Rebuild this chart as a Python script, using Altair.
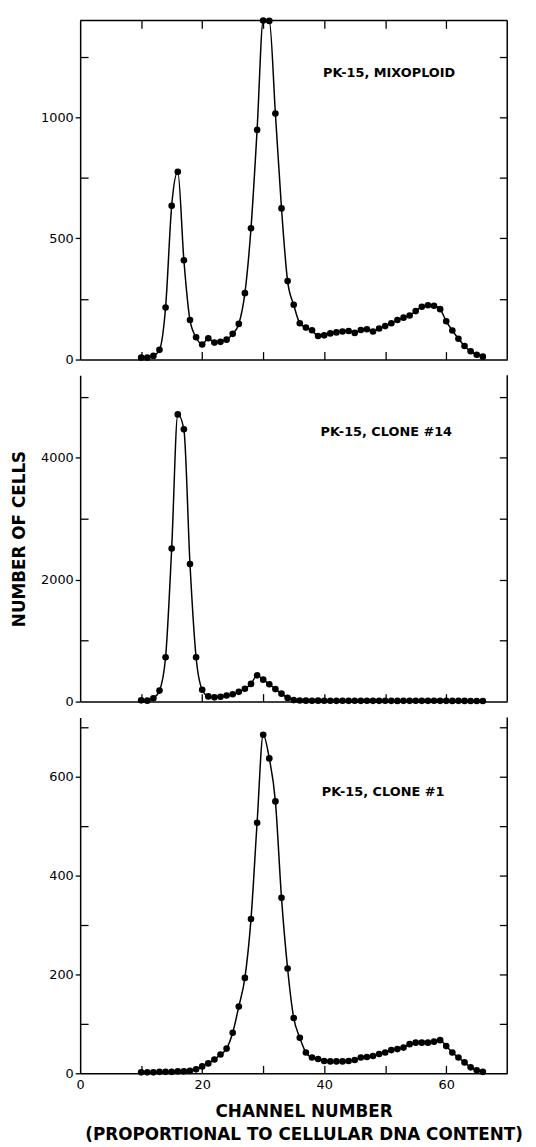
import altair as alt
import pandas as pd

# ---------------- data ----------------
channels = list(range(10, 67))

mixoploid = [8, 8, 15, 40, 215, 635, 775, 410, 163, 92,
             62, 88, 70, 73, 82, 106, 147, 274, 542, 948,
             1400, 1398, 1016, 624, 324, 226, 150, 132, 121, 97,
             100, 108, 112, 116, 118, 110, 122, 125, 116, 128,
             138, 150, 163, 173, 182, 200, 218, 224, 222, 208,
             158, 120, 86, 56, 34, 20, 12]

clone14 = [20, 15, 55, 180, 727, 2510, 4710, 4465, 2255, 727,
           195, 85, 70, 80, 100, 120, 160, 210, 290, 430,
           360, 285, 205, 130, 60, 25, 18, 15, 14, 15,
           13, 14, 12, 13, 12, 14, 12, 13, 12, 12,
           13, 12, 11, 12, 12, 13, 12, 12, 13, 12,
           12, 11, 12, 11, 10, 10, 9]

clone1 = [2, 2, 2, 3, 3, 3, 4, 4, 5, 8,
          14, 20, 28, 38, 50, 82, 135, 193, 312, 507,
          685, 637, 550, 355, 212, 112, 72, 42, 32, 29,
          25, 24, 24, 24, 25, 27, 32, 33, 35, 39,
          42, 47, 49, 52, 59, 62, 62, 62, 64, 67,
          55, 42, 32, 22, 12, 6, 3]

x_domain = [0, 70]
x_label_values = [0, 20, 40, 60]
x_tick_values = [10, 20, 30, 40, 50, 60]

panel_labels = ["PK-15, MIXOPLOID", "PK-15, CLONE #14", "PK-15, CLONE #1"]
label_x = [39.8, 39.4, 39.6]
label_y = [1184, 4423, 570]

y_max = [1400, 5350, 720]
y_major = [[0, 500, 1000], [0, 2000, 4000], [0, 200, 400, 600]]
y_minor_left = [[250, 750, 1250], [1000, 3000, 5000], [100, 300, 500, 700]]
y_minor_right = [[250, 500, 750, 1000, 1250],
                 [1000, 2000, 3000, 4000, 5000],
                 [100, 200, 300, 400, 500, 600, 700]]

y_title = "NUMBER OF CELLS"
x_title = ["CHANNEL NUMBER", "(PROPORTIONAL TO CELLULAR DNA CONTENT)"]

FONT = "DejaVu Sans"
W = 432
heights = [343, 330, 360]
TICK = 8


def panel(i, values, top=False, bottom_labels=False, show_title=False):
    df = pd.DataFrame({"ch": channels, "n": values})
    xs = alt.Scale(domain=x_domain, nice=False, zero=False)
    ys = alt.Scale(domain=[0, y_max[i]], nice=False)

    if bottom_labels:
        xmain = alt.Axis(orient="bottom", values=x_label_values, ticks=False, tickSize=0,
                         format="d", labelPadding=5, labelFlush=False, title=x_title,
                         titleColor="black", titlePadding=13, titleLineHeight=23,
                         titleX=226)
    else:
        xmain = alt.Axis(orient="bottom", values=x_label_values, ticks=False, tickSize=0,
                         labels=False, title=None)

    ymain = alt.Axis(orient="left", values=y_major[i], tickSize=5, labelPadding=2,
                     format="d",
                     title=y_title, titleColor=("black" if show_title else "white"),
                     titlePadding=8, minExtent=44, maxExtent=44)

    line = alt.Chart(df).mark_line(color="black", strokeWidth=1.5,
                                   interpolate="monotone").encode(
        x=alt.X("ch:Q", scale=xs, axis=xmain),
        y=alt.Y("n:Q", scale=ys, axis=ymain),
    )

    pts = alt.Chart(df).mark_circle(color="black", opacity=1, size=45).encode(
        x=alt.X("ch:Q", scale=xs,
                axis=alt.Axis(orient="bottom", values=x_tick_values, offset=-TICK,
                              tickSize=TICK, domain=False, labels=False, title=None,
                              minExtent=0)),
        y=alt.Y("n:Q", scale=ys,
                axis=alt.Axis(orient="left", values=y_minor_left[i], offset=-TICK,
                              tickSize=TICK, domain=False, labels=False, title=None,
                              minExtent=0)),
    )

    top_axis = (alt.Axis(orient="top", values=x_tick_values, offset=-TICK, tickSize=TICK,
                         domain=False, labels=False, title=None, minExtent=0)
                if top else None)
    ghost = alt.Chart(df).mark_point(opacity=0).encode(
        x=alt.X("ch:Q", scale=xs, axis=top_axis),
        y=alt.Y("n:Q", scale=ys,
                axis=alt.Axis(orient="right", values=y_minor_right[i], offset=-TICK,
                              tickSize=TICK, domain=False, labels=False, title=None,
                              minExtent=0)),
    )

    right_edge = alt.Chart(pd.DataFrame({"edge": [x_domain[1]]})).mark_rule(
        color="black", strokeWidth=1.5).encode(
        x=alt.X("edge:Q", scale=xs, axis=None))

    layers = [right_edge]
    if top:
        top_edge = alt.Chart(pd.DataFrame({"topv": [y_max[i]]})).mark_rule(
            color="black", strokeWidth=1.5).encode(
            y=alt.Y("topv:Q", scale=ys, axis=None))
        layers.append(top_edge)

    txt = alt.Chart(pd.DataFrame({"x": [label_x[i]], "y": [label_y[i]],
                                  "t": [panel_labels[i]]})).mark_text(
        align="left", baseline="middle", font=FONT, fontSize=13, fontWeight="bold",
        color="black").encode(
        x=alt.X("x:Q", scale=xs, axis=None),
        y=alt.Y("y:Q", scale=ys, axis=None),
        text="t:N")

    layers += [line, pts, ghost, txt]
    return alt.layer(*layers).resolve_axis(x="independent", y="independent").properties(
        width=W, height=heights[i])


p1 = panel(0, mixoploid, top=True)
p2 = panel(1, clone14, show_title=True)
p3 = panel(2, clone1, bottom_labels=True)

chart = alt.vconcat(p1, p2, p3, spacing=8).properties(
    padding={"left": 3, "top": 2, "right": 5, "bottom": 2},
    background="white",
).configure_view(strokeWidth=0).configure_axis(
    labelFont=FONT, labelFontSize=13, labelColor="black",
    domainColor="black", domainWidth=1.5,
    tickColor="black", tickWidth=1.3, grid=False,
    titleFont=FONT, titleFontSize=17, titleFontWeight="bold",
)

chart.save("out.html", embed_options={"renderer": "svg", "actions": False})
